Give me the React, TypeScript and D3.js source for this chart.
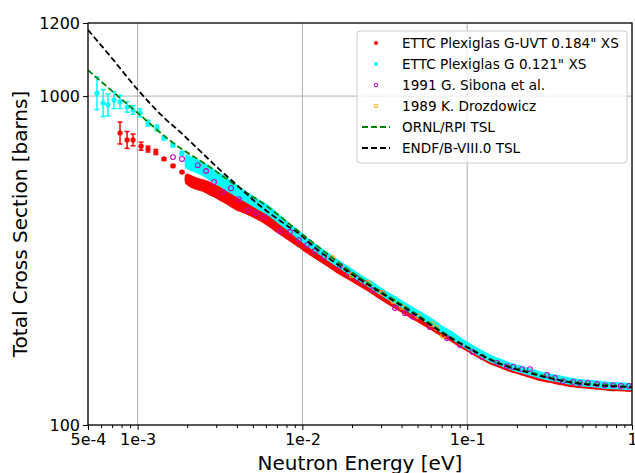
import React, { useEffect, useRef } from "react";
import * as d3 from "d3";

const width = 635;
const height = 473;
const plot = { left: 88, right: 632, top: 23, bottom: 425 };

// axis ticks
const xTicks = [5e-4, 1e-3, 1e-2, 1e-1, 1];
const xTickLabels = ["5e-4", "1e-3", "1e-2", "1e-1", "1"];
const yTicks = [100, 1000, 1200];
const yTickLabels = ["100", "1000", "1200"];

// ETTC low-energy points (sparse, with error bars)
const uvtLowE = [7.82e-4, 8.63e-4, 9.38e-4, 1.05e-3, 1.156e-3, 1.29e-3, 1.445e-3, 1.64e-3, 1.86e-3];
const uvtLowXS = [899, 880, 880, 863, 855, 847, 828, 809, 792];
const uvtLowErr = [30, 23, 16, 11, 8, 7, 3, 3, 3];

const gLowE = [5.67e-4, 6.17e-4, 6.61e-4, 7.19e-4, 7.82e-4, 8.63e-4, 9.38e-4, 1.035e-3, 1.156e-3, 1.31e-3, 1.445e-3, 1.64e-3, 1.86e-3];
const gLowXS = [1008, 981, 976, 989, 984, 970, 962, 954, 926, 913, 885, 866, 844];
const gLowErr = [45, 37, 30, 23, 18, 14, 12, 11, 8, 8, 5, 5, 5];

// ETTC dense region (same energy grid for both samples)
const ettcE = [
  2.0e-3, 2.14e-3, 2.29e-3, 2.5e-3, 2.71e-3, 2.95e-3, 3.25e-3, 3.59e-3, 4.01e-3, 4.49e-3,
  5.01e-3, 5.69e-3, 6.35e-3, 7.31e-3, 8.41e-3, 9.67e-3, 1.11e-2, 1.28e-2, 1.47e-2, 1.69e-2,
  1.94e-2, 2.24e-2, 2.57e-2, 2.96e-2, 3.4e-2, 3.91e-2, 4.5e-2, 5.17e-2, 5.94e-2, 6.84e-2,
  7.86e-2, 9.03e-2, 0.104, 0.12, 0.137, 0.158, 0.182, 0.209, 0.24, 0.277,
  0.318, 0.366, 0.421, 0.483, 0.556, 0.64, 0.735, 0.845, 0.972,
];
const uvtXS = [
  773, 765, 760, 755, 748, 740, 730, 719, 708, 697,
  686, 671, 656, 636, 617, 598, 579, 560, 543, 524,
  508, 491, 475, 456, 439, 423, 406, 390, 374, 357,
  341, 324, 308, 292, 278, 267, 256, 248, 240, 231,
  226, 220, 215, 212, 209, 207, 204, 203, 201,
];
const uvtErr = [
  8, 10, 10, 10, 11, 11, 12, 12, 14, 12,
  11, 9, 8, 8, 7, 7, 7, 6, 6, 6,
  5, 5, 5, 5, 5, 5, 5, 5, 5, 5,
  4, 4, 4, 4, 4, 4, 4, 4, 4, 4,
  4, 4, 4, 4, 4, 4, 4, 4, 4,
];
const gXS = [
  820, 814, 809, 800, 790, 779, 768, 754, 740, 726,
  712, 698, 684, 661, 639, 617, 595, 576, 557, 538,
  521, 502, 486, 467, 450, 434, 417, 401, 385, 365,
  349, 330, 313, 297, 283, 272, 261, 253, 245, 237,
  231, 226, 220, 216, 214, 211, 208, 207, 205,
];
const gErr = [
  13, 13, 13, 12, 12, 11, 11, 10, 9, 8,
  7, 7, 6, 5, 4, 4, 3, 3, 3, 3,
  3, 3, 3, 3, 3, 3, 3, 3, 3, 3,
  3, 3, 3, 3, 3, 3, 3, 3, 3, 3,
  3, 3, 3, 3, 3, 3, 3, 3, 3,
];

// 1991 G. Sibona et al.
const sibonaE = [
  1.64e-3, 1.86e-3, 2.32e-3, 2.6e-3, 2.91e-3, 3.3e-3, 3.69e-3, 4.12e-3, 4.68e-3, 5.23e-3,
  5.85e-3, 7.31e-3, 8.41e-3, 9.53e-3, 1.067e-2, 1.19e-2, 1.35e-2, 1.69e-2, 1.89e-2, 2.14e-2,
  2.4e-2, 2.68e-2, 3.04e-2, 3.65e-2, 4.19e-2, 4.69e-2, 5.94e-2, 7.53e-2, 9.03e-2, 0.108,
  0.123, 0.152, 0.174, 0.19, 0.215, 0.24, 0.305, 0.341, 0.381, 0.439,
  0.483, 0.541, 0.614, 0.686, 0.767, 0.857, 0.959,
];
const sibonaXS = [
  833, 828, 811, 795, 765, 738, 748, 718, 688, 680,
  669, 631, 628, 606, 593, 576, 560, 535, 516, 502,
  489, 469, 461, 420, 406, 396, 368, 338, 319, 300,
  286, 270, 261, 259, 253, 253, 237, 229, 220, 218,
  215, 215, 212, 209, 209, 207, 207,
];

// 1989 K. Drozdowicz
const drozE = [1.51e-2, 2.0e-2, 2.5e-2, 3.04e-2, 3.55e-2, 4.02e-2, 5.02e-2, 6.11e-2, 6.56e-2, 7.13e-2];
const drozXS = [557, 510, 489, 461, 439, 423, 398, 376, 365, 344];

// evaluations
const ornlE = [5e-4, 1.035e-3, 1.64e-3, 2.64e-3, 4.61e-3, 5.53e-3, 9.67e-3, 1.87e-2, 2.96e-2, 4.69e-2, 7.53e-2, 0.101, 0.152, 0.24, 0.404, 0.705, 1.0];
const ornlXS = [1071, 948, 872, 811, 735, 712, 627, 527, 467, 410, 347, 313, 272, 245, 220, 209, 205];

const endfE = [5e-4, 6.8e-4, 1.035e-3, 1.43e-3, 1.81e-3, 2.39e-3, 3.16e-3, 4.18e-3, 5.38e-3, 7.31e-3, 9.67e-3, 1.16e-2, 1.87e-2, 2.96e-2, 4.69e-2, 7.53e-2, 0.101, 0.152, 0.24, 0.404, 0.705, 1.0];
const endfXS = [1181, 1110, 1010, 943, 902, 850, 798, 749, 704, 659, 621, 590, 521, 463, 406, 344, 311, 270, 242, 218, 207, 204];

const legendItems = [
  { label: "ETTC Plexiglas G-UVT 0.184\" XS", color: "#ff0000", kind: "dot" },
  { label: "ETTC Plexiglas G 0.121\" XS", color: "#00ffff", kind: "dot" },
  { label: "1991 G. Sibona et al.", color: "#bf00bf", kind: "ring" },
  { label: "1989 K. Drozdowicz", color: "#ffa500", kind: "ring" },
  { label: "ORNL/RPI TSL", color: "#008000", kind: "line" },
  { label: "ENDF/B-VIII.0 TSL", color: "#000000", kind: "line" },
];

const font = "DejaVu Sans, sans-serif";

type Pt = { e: number; v: number; err: number };
const zip = (es: number[], vs: number[], errs?: number[]): Pt[] =>
  es.map((e, i) => ({ e, v: vs[i], err: errs ? errs[i] : 0 }));

export default function App() {
  const xAxisRef = useRef<SVGGElement>(null);
  const xMinorRef = useRef<SVGGElement>(null);
  const yAxisRef = useRef<SVGGElement>(null);

  const x = d3.scaleLog().domain([5e-4, 1]).range([plot.left, plot.right]);
  const y = d3.scaleLinear().domain([100, 1200]).range([plot.bottom, plot.top]);

  const minorTicks = x.ticks().filter((t) => !xTicks.some((m) => Math.abs(m - t) / m < 1e-6));

  useEffect(() => {
    const xa = d3
      .axisBottom(x)
      .tickValues(xTicks)
      .tickFormat((d, i) => xTickLabels[i])
      .tickSize(5)
      .tickPadding(4);
    const xm = d3.axisBottom(x).tickValues(minorTicks).tickFormat(() => "").tickSize(3);
    const ya = d3
      .axisLeft(y)
      .tickValues(yTicks)
      .tickFormat((d, i) => yTickLabels[i])
      .tickSize(5)
      .tickPadding(3);
    [
      [xAxisRef.current, xa],
      [xMinorRef.current, xm],
      [yAxisRef.current, ya],
    ].forEach(([node, axis]: any) => {
      const g = d3.select(node).call(axis);
      g.select(".domain").remove();
      g.attr("font-family", font).attr("font-size", 16);
      g.selectAll("line").attr("stroke", "#000").attr("stroke-width", 1);
      g.selectAll("text").attr("fill", "#000");
    });
  }, []);

  const uvtLow = zip(uvtLowE, uvtLowXS, uvtLowErr);
  const gLow = zip(gLowE, gLowXS, gLowErr);
  const uvt = zip(ettcE, uvtXS, uvtErr);
  const gDense = zip(ettcE, gXS, gErr);
  const sibona = zip(sibonaE, sibonaXS);
  const droz = zip(drozE, drozXS);
  const ornl = zip(ornlE, ornlXS);
  const endf = zip(endfE, endfXS);

  const line = d3
    .line<Pt>()
    .x((d) => x(d.e))
    .y((d) => y(d.v))
    .curve(d3.curveMonotoneX);
  const band = d3
    .area<Pt>()
    .x((d) => x(d.e))
    .y0((d) => y(d.v - d.err))
    .y1((d) => y(d.v + d.err))
    .curve(d3.curveMonotoneX);

  const errBars = (pts: Pt[], color: string) =>
    pts.map((d, i) => {
      const cx = x(d.e);
      const y0 = y(d.v - d.err);
      const y1 = y(d.v + d.err);
      return (
        <g key={i} stroke={color} strokeWidth={1.5}>
          <line x1={cx} x2={cx} y1={y0} y2={y1} />
          <line x1={cx - 2.5} x2={cx + 2.5} y1={y0} y2={y0} />
          <line x1={cx - 2.5} x2={cx + 2.5} y1={y1} y2={y1} />
        </g>
      );
    });

  const dots = (pts: Pt[], color: string) =>
    pts.map((d, i) => <circle key={i} cx={x(d.e)} cy={y(d.v)} r={2.6} fill={color} />);

  const rings = (pts: Pt[], color: string) =>
    pts.map((d, i) => (
      <circle key={i} cx={x(d.e)} cy={y(d.v)} r={2.4} fill="none" stroke={color} strokeWidth={1.1} />
    ));

  const legendX = 357;
  const legendY = 31;
  const rowH = 21;

  return (
    <svg
      width={width}
      height={height}
      style={{ position: "absolute", left: 0, top: 0, background: "#fff" }}
    >
      <defs>
        <clipPath id="plotClip">
          <rect x={plot.left} y={plot.top} width={plot.right - plot.left} height={plot.bottom - plot.top} />
        </clipPath>
      </defs>
      <rect x={0} y={0} width={width} height={height} fill="#fff" />

      {/* grid */}
      <g stroke="#b0b0b0" strokeWidth={1}>
        {xTicks.map((t, i) => (
          <line key={"gx" + i} x1={x(t)} x2={x(t)} y1={plot.top} y2={plot.bottom} />
        ))}
        {yTicks.map((t, i) => (
          <line key={"gy" + i} x1={plot.left} x2={plot.right} y1={y(t)} y2={y(t)} />
        ))}
      </g>

      <g clipPath="url(#plotClip)">
        {/* ETTC G-UVT 0.184" */}
        <path d={band(uvt) || ""} fill="#ff0000" stroke="#ff0000" strokeWidth={5} strokeLinejoin="round" />
        {errBars(uvtLow, "#ff0000")}
        {dots(uvtLow, "#ff0000")}
        {dots(uvt, "#ff0000")}

        {/* ETTC G 0.121" */}
        <path d={band(gDense) || ""} fill="#00ffff" stroke="#00ffff" strokeWidth={5} strokeLinejoin="round" />
        {errBars(gLow, "#00ffff")}
        {dots(gLow, "#00ffff")}
        {dots(gDense, "#00ffff")}

        {rings(sibona, "#bf00bf")}
        {rings(droz, "#ffa500")}

        <path d={line(ornl) || ""} fill="none" stroke="#008000" strokeWidth={1.8} strokeDasharray="6,3" />
        <path d={line(endf) || ""} fill="none" stroke="#000" strokeWidth={1.8} strokeDasharray="6,3" />
      </g>

      {/* frame */}
      <rect
        x={plot.left}
        y={plot.top}
        width={plot.right - plot.left}
        height={plot.bottom - plot.top}
        fill="none"
        stroke="#000"
        strokeWidth={1.2}
      />

      <g ref={xMinorRef} transform={`translate(0,${plot.bottom})`} />
      <g ref={xAxisRef} transform={`translate(0,${plot.bottom})`} />
      <g ref={yAxisRef} transform={`translate(${plot.left},0)`} />

      <text
        x={(plot.left + plot.right) / 2}
        y={470}
        textAnchor="middle"
        fontFamily={font}
        fontSize={20}
      >
        Neutron Energy [eV]
      </text>
      <text
        transform={`translate(27,${(plot.top + plot.bottom) / 2}) rotate(-90)`}
        textAnchor="middle"
        fontFamily={font}
        fontSize={20}
      >
        Total Cross Section [barns]
      </text>

      {/* legend */}
      <g>
        <rect
          x={legendX}
          y={legendY}
          width={270}
          height={132}
          rx={3}
          fill="#fff"
          fillOpacity={0.8}
          stroke="#cccccc"
          strokeWidth={1}
        />
        {legendItems.map((it, i) => {
          const cy = legendY + 12 + i * rowH;
          return (
            <g key={i}>
              {it.kind === "dot" && <circle cx={376} cy={cy} r={2} fill={it.color} />}
              {it.kind === "ring" && (
                <circle cx={376} cy={cy} r={1.8} fill="none" stroke={it.color} strokeWidth={1} />
              )}
              {it.kind === "line" && (
                <line x1={362} x2={390} y1={cy} y2={cy} stroke={it.color} strokeWidth={1.8} strokeDasharray="6,3" />
              )}
              <text x={402} y={cy} dy="0.35em" fontFamily={font} fontSize={13.6} fill="#000">
                {it.label}
              </text>
            </g>
          );
        })}
      </g>
    </svg>
  );
}
